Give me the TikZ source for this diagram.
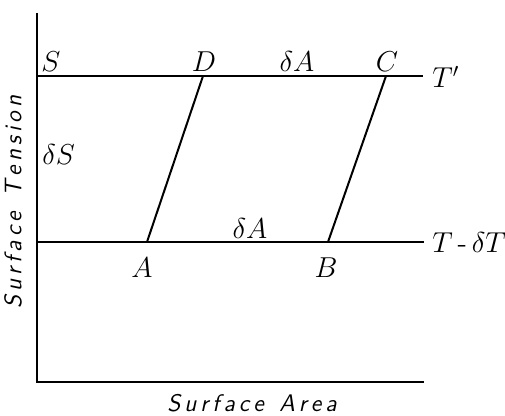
\documentclass[tikz,border=0pt]{standalone}
\usepackage{tikz}
\usetikzlibrary{positioning}
\begin{document}
\begin{tikzpicture}[x=0.5pt,y=-0.5pt,
      axis/.style={line width=1.1pt},
      iso/.style={line width=1pt},
      lbl/.style={font=\Large,inner sep=1pt},
      axlbl/.style={font=\large\sffamily\slshape,inner sep=1pt}]
      \useasboundingbox (0,0) rectangle (505,416);
      % axes
      \coordinate (O) at (37,382);
      \coordinate (Ytop) at (37,13);
      \coordinate (Xend) at (424,382);
      % isotherms
      \coordinate (Sup) at (37,76);
      \coordinate (Tup) at (423,76);
      \coordinate (Slow) at (37,242);
      \coordinate (Tlow) at (424,242);
      \coordinate (D) at (203,76);
      \coordinate (C) at (386,76);
      \coordinate (A) at (147,242);
      \coordinate (B) at (328,242);
      \draw[axis] (Ytop)--(O)--(Xend);
      \draw[iso] (Sup)--(Tup);
      \draw[iso] (Slow)--(Tlow);
      \draw[iso] (A)--(D);
      \draw[iso] (B)--(C);
      % labels
      \node[lbl] (lS) at (51,62) {$S$};
      \node[lbl] (lD) at (204,62) {$D$};
      \node[lbl] (ldA1) at (297,62) {$\delta A$};
      \node[lbl] (lC) at (387,62) {$C$};
      \node[lbl,right] (lT) at (430,77) {$T'$};
      \node[lbl,right] (ldS) at (40,155) {$\delta S$};
      \node[lbl] (ldA2) at (250,229) {$\delta A$};
      \node[lbl] (lA) at (142,268) {$A$};
      \node[lbl] (lB) at (326,268) {$B$};
      \node[lbl,right] (lTd) at (430,243) {$T$\,-\,$\delta T$};
      \node[axlbl,rotate=90] (yl) at (13,202) {S\,u\,r\,f\,a\,c\,e\ \ T\,e\,n\,s\,i\,o\,n};
      \node[axlbl] (xl) at (252,403) {S\,u\,r\,f\,a\,c\,e\ \ A\,r\,e\,a};
    \end{tikzpicture}
\end{document}
